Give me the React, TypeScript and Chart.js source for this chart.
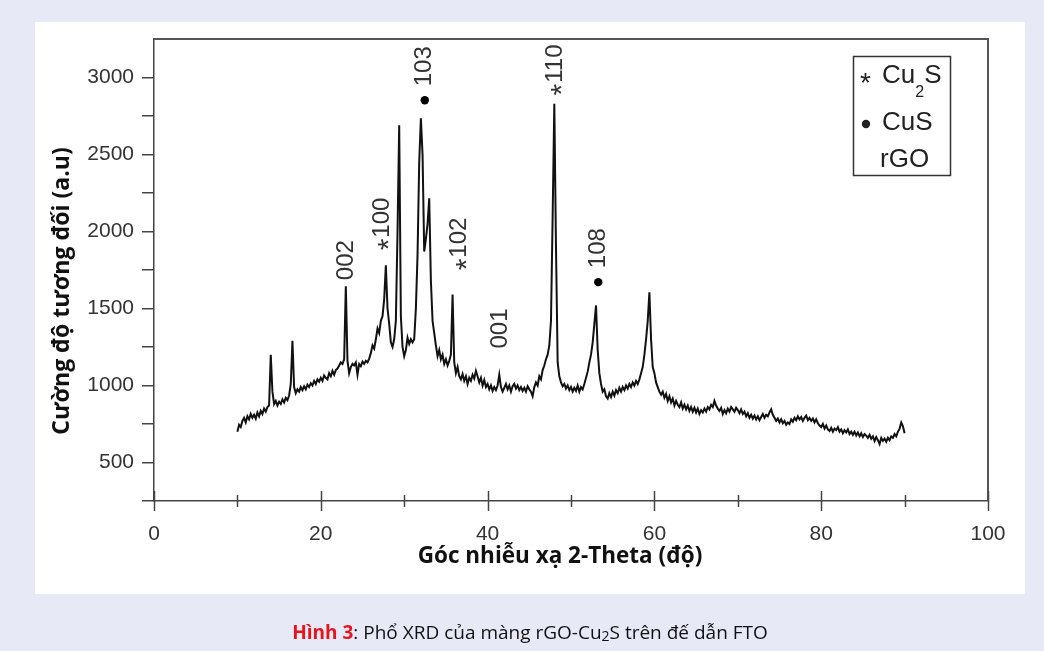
import React, { useEffect, useRef } from "react";
import { Chart, registerables } from "chart.js";

Chart.register(...registerables);

// ---- data ----
const TWO_THETA_START = 10; // degrees
const TWO_THETA_STEP = 0.2; // degrees per sample

const INTENSITY: number[] = [
  700, 745, 730, 770, 790, 760, 800, 780, 815, 790, // 10.0 - 11.8
  810, 785, 825, 800, 835, 815, 850, 830, 860, 870, // 12.0 - 13.8
  1200, 960, 880, 900, 870, 895, 880, 910, 890, 920, // 14.0 - 15.8
  905, 935, 1010, 1290, 990, 950, 975, 960, 990, 970, // 16.0 - 17.8
  995, 975, 1005, 990, 1015, 1000, 1030, 1010, 1040, 1025, // 18.0 - 19.8
  1050, 1030, 1065, 1050, 1040, 1080, 1060, 1095, 1070, 1100, // 20.0 - 21.8
  1110, 1130, 1150, 1140, 1170, 1645, 1160, 1080, 1120, 1140, // 22.0 - 23.8
  1130, 1150, 1070, 1140, 1125, 1155, 1140, 1160, 1150, 1175, // 24.0 - 25.8
  1210, 1260, 1240, 1300, 1370, 1340, 1420, 1450, 1560, 1780, // 26.0 - 27.8
  1500, 1400, 1280, 1250, 1300, 1420, 2000, 2690, 1450, 1250, // 28.0 - 29.8
  1190, 1230, 1310, 1270, 1300, 1280, 1300, 1500, 1850, 2450, // 30.0 - 31.8
  2735, 2500, 1870, 1950, 2050, 2215, 1680, 1420, 1340, 1260, // 32.0 - 33.8
  1190, 1230, 1170, 1200, 1140, 1170, 1130, 1160, 1200, 1590, // 34.0 - 35.8
  1150, 1080, 1120, 1060, 1040, 1075, 1030, 1060, 1010, 1050, // 36.0 - 37.8
  1030, 1070, 1045, 1095, 1060, 1020, 1050, 1000, 1035, 990, // 38.0 - 39.8
  1010, 975, 1000, 965, 990, 970, 1000, 1070, 990, 960, // 40.0 - 41.8
  985, 1010, 975, 1000, 960, 995, 1010, 980, 1000, 970, // 42.0 - 43.8
  990, 965, 985, 960, 995, 975, 960, 930, 990, 1020, // 44.0 - 45.8
  1000, 1060, 1040, 1100, 1130, 1170, 1200, 1260, 1420, 2100, // 46.0 - 47.8
  2830, 1900, 1150, 1060, 1020, 995, 1010, 980, 1000, 970, // 48.0 - 49.8
  990, 960, 985, 965, 1000, 960, 990, 975, 1010, 1050, // 50.0 - 51.8
  1090, 1150, 1200, 1280, 1400, 1520, 1230, 1080, 1010, 960, // 52.0 - 53.8
  975, 930, 915, 950, 925, 960, 935, 970, 950, 985, // 54.0 - 55.8
  960, 990, 970, 1000, 980, 1010, 990, 1020, 1000, 1030, // 56.0 - 57.8
  1010, 1040, 1080, 1120, 1200, 1300, 1420, 1605, 1300, 1120, // 58.0 - 59.8
  1080, 1020, 990, 960, 940, 960, 920, 945, 900, 930, // 60.0 - 61.8
  890, 915, 870, 900, 875, 860, 890, 850, 875, 845, // 62.0 - 63.8
  870, 835, 860, 830, 855, 825, 850, 815, 840, 825, // 64.0 - 65.8
  850, 830, 860, 845, 875, 860, 900, 870, 850, 835, // 66.0 - 67.8
  855, 815, 840, 820, 850, 830, 860, 845, 830, 855, // 68.0 - 69.8
  840, 820, 845, 815, 830, 800, 820, 790, 810, 785, // 70.0 - 71.8
  805, 780, 800, 775, 795, 815, 790, 810, 800, 825, // 72.0 - 73.8
  845, 810, 790, 770, 785, 760, 780, 755, 770, 745, // 74.0 - 75.8
  760, 750, 780, 765, 790, 775, 800, 780, 795, 770, // 76.0 - 77.8
  790, 805, 775, 790, 770, 785, 760, 780, 755, 740, // 78.0 - 79.8
  730, 750, 720, 740, 715, 705, 725, 700, 720, 710, // 80.0 - 81.8
  730, 700, 715, 690, 710, 695, 715, 685, 700, 680, // 82.0 - 83.8
  700, 675, 695, 670, 690, 665, 685, 675, 660, 680, // 84.0 - 85.8
  655, 670, 640, 665, 645, 620, 660, 640, 655, 635, // 86.0 - 87.8
  660, 645, 670, 660, 685, 670, 700, 720, 760, 735, // 88.0 - 89.8
  690, // 90.0
];

const X_TICKS = [0, 10, 20, 30, 40, 50, 60, 70, 80, 90, 100];
const X_LABELS = [0, 20, 40, 60, 80, 100];
const Y_TICKS = [250, 500, 750, 1000, 1250, 1500, 1750, 2000, 2250, 2500, 2750, 3000];
const Y_LABELS = [500, 1000, 1500, 2000, 2500, 3000];

// peak labels: marker ("*" Cu2S, "dot" CuS, "" none), Miller index, position of the index text centre
const PEAK_MARKERS = ["", "*", "dot", "*", "", "*", "dot"];
const PEAK_LABELS = ["002", "100", "103", "102", "001", "110", "108"];
const PEAK_ANGLES = [23.06, 27.35, 32.47, 36.6, 41.5, 48.1, 53.27];
const PEAK_LEVELS = [1814, 2090, 3073, 1960, 1370, 3090, 1892];

const X_TITLE = "Góc nhiễu xạ 2-Theta (độ)";
const Y_TITLE = "Cường độ tương đối (a.u)";

const TICK_FONT = '"Liberation Sans", Arial, sans-serif';
const TITLE_FONT = '"Open Sans", "Noto Sans", sans-serif';

const decorPlugin = {
  id: "decor",
  afterDraw(chart: any) {
    const ctx = chart.ctx as CanvasRenderingContext2D;
    const { left, right, top, bottom } = chart.chartArea;
    const xs = chart.scales.x;
    const ys = chart.scales.y;
    ctx.save();

    // frame top & right
    ctx.strokeStyle = "#555";
    ctx.lineWidth = 2;
    ctx.beginPath();
    ctx.moveTo(left, top);
    ctx.lineTo(right, top);
    ctx.lineTo(right, bottom);
    ctx.stroke();

    // x ticks crossing the axis
    ctx.strokeStyle = "#444";
    ctx.lineWidth = 1.5;
    X_TICKS.forEach((v) => {
      const px = Math.round(xs.getPixelForValue(v)) + 0.5;
      const half = X_LABELS.includes(v) ? 10 : 6;
      ctx.beginPath();
      ctx.moveTo(px, bottom - half);
      ctx.lineTo(px, bottom + half);
      ctx.stroke();
    });

    // peak annotations (rotated)
    PEAK_LABELS.forEach((t, i) => {
      const px = xs.getPixelForValue(PEAK_ANGLES[i]);
      const py = ys.getPixelForValue(PEAK_LEVELS[i]);
      ctx.save();
      ctx.translate(px, py);
      ctx.rotate(-Math.PI / 2);
      ctx.fillStyle = "#333";
      ctx.font = `24px ${TICK_FONT}`;
      ctx.textAlign = "center";
      ctx.textBaseline = "middle";
      ctx.fillText(t, 0, 0);
      const w = ctx.measureText(t).width;
      const m = PEAK_MARKERS[i];
      if (m === "dot") {
        ctx.fillStyle = "#000";
        ctx.beginPath();
        ctx.arc(-w / 2 - 14, 0, 4.2, 0, Math.PI * 2);
        ctx.fill();
      } else if (m === "*") {
        ctx.font = `30px ${TICK_FONT}`;
        ctx.textAlign = "right";
        ctx.fillText("*", -w / 2 - 1, 8);
      }
      ctx.restore();
    });

    // legend box
    ctx.strokeStyle = "#333";
    ctx.lineWidth = 1.5;
    ctx.strokeRect(853.5, 56.5, 97, 119);
    ctx.fillStyle = "#222";
    ctx.textAlign = "left";
    ctx.textBaseline = "middle";
    ctx.font = `28px ${TICK_FONT}`;
    ctx.fillText("*", 860, 84);
    ctx.font = `26px ${TICK_FONT}`;
    ctx.fillText("Cu", 882, 76);
    const cuW = ctx.measureText("Cu").width;
    ctx.font = `16px ${TICK_FONT}`;
    ctx.fillText("2", 882 + cuW, 93);
    const twoW = ctx.measureText("2").width;
    ctx.font = `26px ${TICK_FONT}`;
    ctx.fillText("S", 882 + cuW + twoW, 76);
    ctx.beginPath();
    ctx.arc(866, 124, 4.2, 0, Math.PI * 2);
    ctx.fill();
    ctx.fillText("CuS", 882, 123);
    ctx.fillText("rGO", 880, 160);

    // axis titles
    ctx.fillStyle = "#111";
    ctx.textAlign = "center";
    ctx.textBaseline = "middle";
    ctx.font = `bold 22.5px ${TITLE_FONT}`;
    ctx.fillText(X_TITLE, 560, 557);
    ctx.save();
    ctx.translate(62, 291);
    ctx.rotate(-Math.PI / 2);
    ctx.font = `bold 23px ${TITLE_FONT}`;
    ctx.fillText(Y_TITLE, 0, 0);
    ctx.restore();

    ctx.restore();
  },
};

export default function App() {
  const canvasRef = useRef<HTMLCanvasElement | null>(null);

  useEffect(() => {
    const canvas = canvasRef.current;
    if (!canvas) return;
    const points = INTENSITY.map((v, i) => ({
      x: Math.round((TWO_THETA_START + i * TWO_THETA_STEP) * 100) / 100,
      y: v,
    }));
    const chart = new Chart(canvas, {
      type: "line",
      data: {
        datasets: [
          {
            data: points,
            borderColor: "#111",
            borderWidth: 2,
            pointRadius: 0,
            tension: 0,
            fill: false,
          },
        ],
      },
      options: {
        animation: false,
        responsive: false,
        devicePixelRatio: 1,
        layout: { padding: { left: 44, right: 56, top: 39, bottom: 90 } },
        plugins: {
          legend: { display: false },
          tooltip: { enabled: false },
        },
        scales: {
          x: {
            type: "linear",
            min: 0,
            max: 100,
            afterFit: (s: any) => {
              s.height = 60;
            },
            afterBuildTicks: (s: any) => {
              s.ticks = X_TICKS.map((v) => ({ value: v }));
            },
            grid: { drawOnChartArea: false, drawTicks: false },
            border: { display: true, color: "#444", width: 1.5 },
            ticks: {
              padding: 21,
              color: "#333",
              autoSkip: false,
              maxRotation: 0,
              font: { family: TICK_FONT, size: 21 },
              callback: (v: any) => (X_LABELS.includes(Number(v)) ? String(v) : ""),
            },
          },
          y: {
            type: "linear",
            min: 250,
            max: 3250,
            afterFit: (s: any) => {
              s.width = 110;
            },
            afterBuildTicks: (s: any) => {
              s.ticks = Y_TICKS.map((v) => ({ value: v }));
            },
            grid: {
              drawOnChartArea: false,
              drawTicks: true,
              tickLength: 12,
              color: "#444",
              lineWidth: 1.5,
            },
            border: { display: true, color: "#444", width: 1.5 },
            ticks: {
              padding: 8,
              color: "#333",
              autoSkip: false,
              font: { family: TICK_FONT, size: 21 },
              callback: (v: any) => (Y_LABELS.includes(Number(v)) ? String(v) : ""),
            },
          },
        },
      },
      plugins: [decorPlugin],
    });
    return () => chart.destroy();
  }, []);

  return (
    <div
      style={{
        position: "fixed",
        left: 0,
        top: 0,
        width: 1044,
        height: 651,
        background: "#e7eaf6",
        overflow: "hidden",
      }}
    >
      <div
        style={{
          position: "absolute",
          left: 35,
          top: 22,
          width: 990,
          height: 572,
          background: "#ffffff",
        }}
      />
      <canvas
        ref={canvasRef}
        width={1044}
        height={651}
        style={{ position: "absolute", left: 0, top: 0, width: 1044, height: 651 }}
      />
      <div
        style={{
          position: "absolute",
          left: 35,
          width: 990,
          top: 618,
          textAlign: "center",
          fontFamily: '"Open Sans", "Noto Sans", sans-serif',
          fontSize: 19,
          color: "#111",
          lineHeight: "28px",
        }}
      >
        <span style={{ color: "#e8141c", fontWeight: "bold" }}>Hình 3</span>: Phổ XRD của màng rGO-Cu
        <sub style={{ fontSize: 14, verticalAlign: "-2px" }}>2</sub>S trên đế dẫn FTO
      </div>
    </div>
  );
}
